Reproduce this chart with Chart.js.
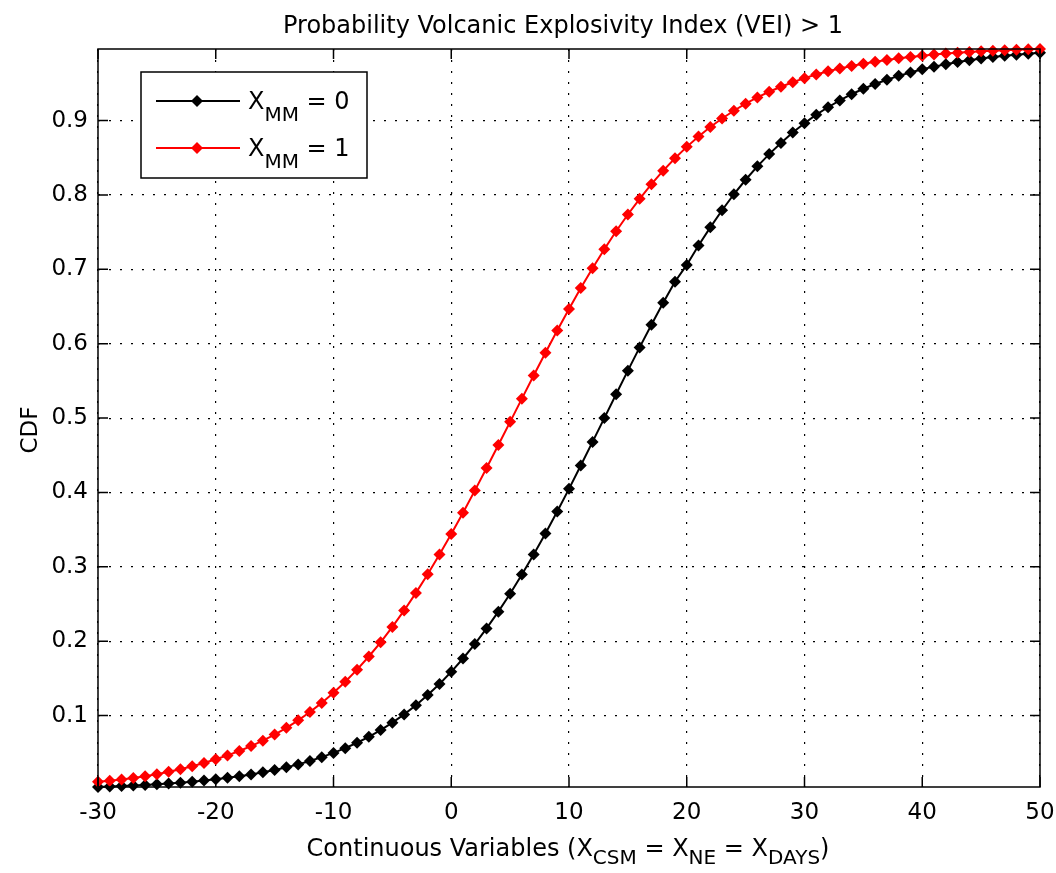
<!DOCTYPE html>
<html>
<head>
<meta charset="utf-8">
<script src="https://cdn.jsdelivr.net/npm/chart.js@4.4.1/dist/chart.umd.min.js"></script>
<style>
  html, body { margin: 0; padding: 0; background: #fff; }
  #wrap { width: 1056px; height: 873px; }
</style>
</head>
<body>
<div id="wrap"><canvas id="cdfChart"></canvas></div>
<script>
const xValues = [-30,-29,-28,-27,-26,-25,-24,-23,-22,-21,-20,-19,-18,-17,-16,-15,-14,-13,-12,-11,
  -10,-9,-8,-7,-6,-5,-4,-3,-2,-1,0,1,2,3,4,5,6,7,8,9,10,11,12,13,14,15,16,17,18,19,
  20,21,22,23,24,25,26,27,28,29,30,31,32,33,34,35,36,37,38,39,40,41,42,43,44,45,46,47,48,49,50];

// X_MM = 0
const cdfMM0 = [0.0040,0.0046,0.0052,0.0059,0.0067,0.0076,0.0086,0.0098,0.0111,0.0126,
  0.0143,0.0163,0.0185,0.0209,0.0237,0.0269,0.0304,0.0344,0.0390,0.0441,
  0.0498,0.0562,0.0635,0.0715,0.0805,0.0905,0.1016,0.1139,0.1276,0.1424,
  0.1589,0.1768,0.1962,0.2172,0.2398,0.2639,0.2896,0.3167,0.3450,0.3745,
  0.4049,0.4362,0.4680,0.5000,0.5320,0.5638,0.5951,0.6255,0.6550,0.6833,
  0.7060,0.7320,0.7565,0.7795,0.8010,0.8205,0.8385,0.8550,0.8700,0.8840,
  0.8965,0.9080,0.9180,0.9272,0.9355,0.9428,0.9492,0.9550,0.9602,0.9648,
  0.9690,0.9726,0.9758,0.9787,0.9812,0.9834,0.9854,0.9871,0.9886,0.9899,0.9911];

// X_MM = 1
const cdfMM1 = [0.0110,0.0125,0.0142,0.0162,0.0186,0.0212,0.0244,0.0278,0.0318,0.0362,
  0.0413,0.0465,0.0524,0.0590,0.0663,0.0745,0.0836,0.0936,0.1048,0.1171,
  0.1307,0.1456,0.1618,0.1795,0.1986,0.2192,0.2414,0.2650,0.2901,0.3165,
  0.3441,0.3728,0.4025,0.4329,0.4638,0.4950,0.5262,0.5572,0.5878,0.6178,
  0.6468,0.6748,0.7016,0.7271,0.7512,0.7738,0.7949,0.8146,0.8327,0.8494,
  0.8647,0.8787,0.8914,0.9029,0.9133,0.9228,0.9312,0.9388,0.9455,0.9516,
  0.9571,0.9619,0.9663,0.9701,0.9735,0.9766,0.9793,0.9816,0.9838,0.9856,
  0.9873,0.9888,0.9901,0.9913,0.9923,0.9932,0.9940,0.9947,0.9953,0.9958,0.9963];

const xTicks = [-30, -20, -10, 0, 10, 20, 30, 40, 50];
const yTicks = [0.1, 0.2, 0.3, 0.4, 0.5, 0.6, 0.7, 0.8, 0.9];

const FONT = '"DejaVu Sans", Verdana, sans-serif';
const yMin = Math.min(...cdfMM0, ...cdfMM1);
const yMax = Math.max(...cdfMM0, ...cdfMM1);

function toPoints(ys) {
    return xValues.map((x, i) => ({ x: x, y: ys[i] }));
}

// draws text pieces, some as subscripts; returns end x
function subText(ctx, parts, x, y, size, subSize, subDrop) {
    parts.forEach(p => {
        if (p.sub) {
            ctx.font = subSize + 'px ' + FONT;
            ctx.fillText(p.t, x, y + subDrop);
        } else {
            ctx.font = size + 'px ' + FONT;
            ctx.fillText(p.t, x, y);
        }
        x += ctx.measureText(p.t).width;
    });
    return x;
}

function partsWidth(ctx, parts, size, subSize) {
    let w = 0;
    parts.forEach(p => {
        ctx.font = (p.sub ? subSize : size) + 'px ' + FONT;
        w += ctx.measureText(p.t).width;
    });
    return w;
}

const matlabLook = {
    id: 'matlabLook',
    beforeDraw(chart) {
        const ctx = chart.ctx;
        ctx.save();
        ctx.fillStyle = '#fff';
        ctx.fillRect(0, 0, chart.width, chart.height);
        ctx.restore();
    },
    afterDraw(chart) {
        const ctx = chart.ctx;
        const a = chart.chartArea;
        const xs = chart.scales.x, ys = chart.scales.y;
        ctx.save();

        // box + inward ticks
        ctx.strokeStyle = '#000';
        ctx.lineWidth = 1.5;
        ctx.strokeRect(a.left, a.top, a.right - a.left, a.bottom - a.top);
        const tl = 10;
        ctx.beginPath();
        xTicks.forEach(v => {
            const px = xs.getPixelForValue(v);
            ctx.moveTo(px, a.bottom); ctx.lineTo(px, a.bottom - tl);
            ctx.moveTo(px, a.top); ctx.lineTo(px, a.top + tl);
        });
        yTicks.forEach(v => {
            const py = ys.getPixelForValue(v);
            ctx.moveTo(a.left, py); ctx.lineTo(a.left + tl, py);
            ctx.moveTo(a.right, py); ctx.lineTo(a.right - tl, py);
        });
        ctx.stroke();

        ctx.fillStyle = '#000';
        ctx.textBaseline = 'alphabetic';

        // title
        ctx.font = '24px ' + FONT;
        ctx.textAlign = 'center';
        ctx.fillText('Probability Volcanic Explosivity Index (VEI) > 1', 563, 33);

        // x axis title with subscripts
        ctx.textAlign = 'left';
        const xt = [
            { t: 'Continuous Variables (X' }, { t: 'CSM', sub: true },
            { t: ' = X' }, { t: 'NE', sub: true },
            { t: ' = X' }, { t: 'DAYS', sub: true }, { t: ')' }
        ];
        const w = partsWidth(ctx, xt, 24, 20);
        subText(ctx, xt, 568 - w / 2, 856, 24, 20, 8);

        // y axis title
        ctx.save();
        ctx.translate(37, 430);
        ctx.rotate(-Math.PI / 2);
        ctx.textAlign = 'center';
        ctx.font = '23px ' + FONT;
        ctx.fillText('CDF', 0, 0);
        ctx.restore();

        // legend
        const lx = 141, ly = 72, lw = 226, lh = 106;
        ctx.fillStyle = '#fff';
        ctx.fillRect(lx, ly, lw, lh);
        ctx.lineWidth = 1.5;
        ctx.strokeStyle = '#000';
        ctx.strokeRect(lx, ly, lw, lh);
        const entries = [
            { color: '#000', y: 101, label: '0' },
            { color: '#ff0000', y: 148, label: '1' }
        ];
        entries.forEach(e => {
            ctx.strokeStyle = e.color;
            ctx.lineWidth = 2;
            ctx.beginPath();
            ctx.moveTo(156, e.y); ctx.lineTo(240, e.y);
            ctx.stroke();
            ctx.fillStyle = e.color;
            ctx.beginPath();
            ctx.moveTo(197, e.y - 6); ctx.lineTo(203, e.y);
            ctx.lineTo(197, e.y + 6); ctx.lineTo(191, e.y);
            ctx.closePath();
            ctx.fill();
            ctx.fillStyle = '#000';
            ctx.textAlign = 'left';
            subText(ctx, [{ t: 'X' }, { t: 'MM', sub: true }, { t: ' = ' + e.label }],
                248, e.y + 8, 24, 20, 12);
        });

        ctx.restore();
    }
};

const ctx = document.getElementById('cdfChart').getContext('2d');
new Chart(ctx, {
    type: 'line',
    data: {
        datasets: [{
            label: 'X_MM = 0',
            data: toPoints(cdfMM0),
            borderColor: '#000',
            backgroundColor: '#000',
            borderWidth: 2,
            pointStyle: 'rectRot',
            pointRadius: 6,
            pointBorderWidth: 0,
            tension: 0,
            clip: false,
            order: 1
        }, {
            label: 'X_MM = 1',
            data: toPoints(cdfMM1),
            borderColor: '#ff0000',
            backgroundColor: '#ff0000',
            borderWidth: 2,
            pointStyle: 'rectRot',
            pointRadius: 6,
            pointBorderWidth: 0,
            tension: 0,
            clip: false,
            order: 0
        }]
    },
    options: {
        responsive: true,
        maintainAspectRatio: false,
        animation: false,
        layout: { padding: { top: 49, right: 16, left: 0, bottom: 0 } },
        plugins: {
            legend: { display: false },
            title: { display: false },
            tooltip: { enabled: false }
        },
        scales: {
            x: {
                type: 'linear',
                min: -30,
                max: 50,
                afterBuildTicks: scale => { scale.ticks = xTicks.map(v => ({ value: v })); },
                afterFit: scale => {
                    scale.height = 86;
                    scale.paddingLeft = 0;
                    scale.paddingRight = 0;
                },
                grid: { color: '#000', lineWidth: 1.2, drawTicks: false },
                border: { display: false, dash: [2, 9] },
                ticks: {
                    color: '#000',
                    padding: 12,
                    maxRotation: 0,
                    font: { family: FONT, size: 23 },
                    callback: v => String(v)
                }
            },
            y: {
                type: 'linear',
                min: yMin,
                max: yMax,
                afterBuildTicks: scale => { scale.ticks = yTicks.map(v => ({ value: v })); },
                afterFit: scale => {
                    scale.width = 98;
                    scale.paddingTop = 0;
                    scale.paddingBottom = 0;
                },
                grid: { color: '#000', lineWidth: 1.2, drawTicks: false },
                border: { display: false, dash: [2, 9] },
                ticks: {
                    color: '#000',
                    padding: 10,
                    font: { family: FONT, size: 23 },
                    callback: v => v.toFixed(1)
                }
            }
        }
    },
    plugins: [matlabLook]
});
</script>
</body>
</html>
